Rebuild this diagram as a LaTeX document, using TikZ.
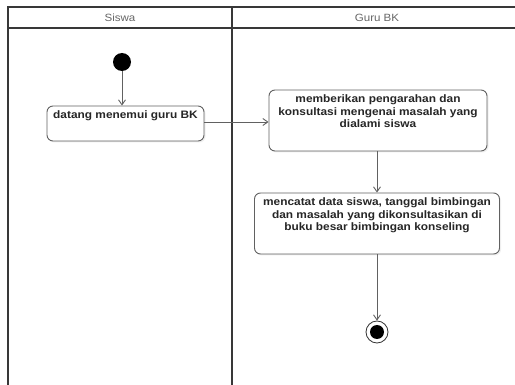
\documentclass[tikz,border=0pt]{standalone}
\usepackage{fontspec}
\setmainfont[FakeStretch=1.1]{Liberation Sans}
\usetikzlibrary{arrows.meta,shadows}
\definecolor{frame}{gray}{0.22}
\definecolor{edge}{gray}{0.38}
\tikzset{
  lane/.style={draw=frame, line width=1.4pt},
  actbox/.style={draw=edge, line width=0.9pt, rounded corners=6pt, fill=white, inner sep=0pt,
    drop shadow={opacity=0.12, shadow xshift=1.5pt, shadow yshift=-1.5pt}},
  acttext/.style={font=\fontsize{10.8}{12.5}\selectfont\bfseries, text=black!85, align=center, inner sep=0pt},
  head/.style={font=\fontsize{10.5}{12}\selectfont, text=black!60, inner sep=0pt},
  flow/.style={draw=edge, line width=0.9pt, -{Straight Barb[length=5pt,width=7pt]}},
}
\begin{document}
\begin{tikzpicture}[x=1pt,y=-1pt]
\useasboundingbox (0,0) rectangle (515,385);
\clip (0,0) rectangle (515,385);
\fill[white] (0,0) rectangle (515,385);
% swimlanes
\coordinate (tl) at (8,7);
\coordinate (hl) at (8,28);
\coordinate (bl) at (8,390);
\coordinate (tm) at (232,7);
\coordinate (bm) at (232,390);
\coordinate (tr) at (530,7);
\coordinate (hr) at (530,28);
\draw[lane] (tr) -- (tl) -- (bl);
\draw[lane] (hl) -- (hr);
\draw[lane] (tm) -- (bm);
\node[head] (h1) at (120,18) {Siswa};
\node[head] (h2) at (377,18) {Guru BK};
% start
\node[circle, fill=black, minimum size=18pt, inner sep=0pt] (start) at (122,62) {};
% activities
\node[actbox, minimum width=157pt, minimum height=35pt] (a1) at (125.5,123.5) {};
\node[acttext, anchor=north] (t1) at ([yshift=-5pt]a1.north) {datang menemui guru BK};
\node[actbox, minimum width=218pt, minimum height=61pt] (a2) at (378,120.5) {};
\node[acttext, anchor=north] (t2) at ([yshift=-5pt]a2.north) {memberikan pengarahan dan\\konsultasi mengenai masalah yang\\dialami siswa};
\node[actbox, minimum width=245pt, minimum height=61pt] (a3) at (377,223.5) {};
\node[acttext, anchor=north] (t3) at ([yshift=-5pt]a3.north) {mencatat data siswa, tanggal bimbingan\\dan masalah yang dikonsultasikan di\\buku besar bimbingan konseling};
% end
\node[circle, draw=black!80, line width=0.8pt, fill=white, minimum size=22pt, inner sep=0pt] (end) at (377,332) {};
\node[circle, fill=black, minimum size=14pt, inner sep=0pt] (endin) at (end.center) {};
% flows
\draw[flow] (start) -- (start |- a1.north);
\draw[flow] (a1.east |- 0,122) -- (a2.west |- 0,122);
\draw[flow] (a2.south -| 377,0) -- (a3.north -| 377,0);
\draw[flow] (a3.south -| end) -- (end.north);
\end{tikzpicture}
\end{document}
